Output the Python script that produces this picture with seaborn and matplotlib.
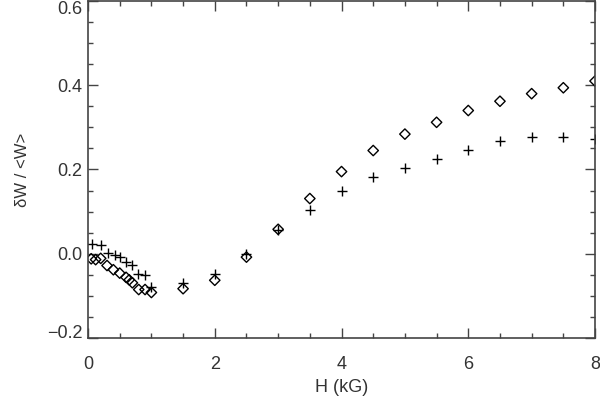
import numpy as np
import pandas as pd
import seaborn as sns
from matplotlib import pyplot as plt
from matplotlib import ticker as plticker

# diamonds
h_diamond = [0.05, 0.12, 0.2, 0.3, 0.4, 0.5, 0.6, 0.65, 0.7, 0.8, 0.9, 1.0,
             1.5, 2.0, 2.5, 3.0, 3.5, 4.0, 4.5, 5.0, 5.5, 6.0, 6.5, 7.0,
             7.5, 8.0]
w_diamond = [-0.012, -0.014, -0.011, -0.028, -0.038, -0.046, -0.056, -0.062,
             -0.069, -0.085, -0.085, -0.092, -0.083, -0.063, -0.008, 0.058,
             0.131, 0.195, 0.245, 0.284, 0.312, 0.340, 0.362, 0.380, 0.394,
             0.410]

# crosses
h_cross = [0.07, 0.2, 0.32, 0.42, 0.5, 0.6, 0.7, 0.79, 0.9, 1.0, 1.5, 2.0,
           2.5, 3.0, 3.5, 4.0, 4.5, 5.0, 5.5, 6.0, 6.5, 7.0, 7.5, 8.0]
w_cross = [0.022, 0.021, 0.002, -0.002, -0.008, -0.020, -0.026, -0.047,
           -0.051, -0.079, -0.069, -0.049, 0.0, 0.056, 0.105, 0.149, 0.183,
           0.203, 0.225, 0.247, 0.268, 0.277, 0.276, 0.272]

y_ticks = [-0.2, 0.0, 0.2, 0.4, 0.6]

diamonds = pd.DataFrame({'H': h_diamond, 'dW': w_diamond})
crosses = pd.DataFrame({'H': h_cross, 'dW': w_cross})

sns.set_style('ticks')
plt.rcParams['font.family'] = ['Liberation Sans', 'DejaVu Sans']

fig = plt.figure(figsize=(6, 3.98), dpi=100)
ax = fig.add_axes([0.1467, 0.1508, 0.845, 0.8467])

sns.scatterplot(data=diamonds, x='H', y='dW', ax=ax, marker='D', s=28,
                facecolor='none', edgecolor='black', linewidth=1.0)
sns.scatterplot(data=crosses, x='H', y='dW', ax=ax, marker='+', s=55,
                color='black', linewidth=1.0)

ax.set_xlim(0, 8)
ax.set_ylim(-0.2, 0.6)

ax.xaxis.set_major_locator(plticker.MultipleLocator(2))
ax.xaxis.set_minor_locator(plticker.MultipleLocator(0.5))
ax.yaxis.set_major_locator(plticker.FixedLocator(y_ticks))
ax.yaxis.set_minor_locator(plticker.MultipleLocator(0.05))
ax.yaxis.set_major_formatter(
    plticker.FuncFormatter(lambda v, p: f'{v:.1f}'.replace('-', '\u2212')))

ax.tick_params(which='both', direction='in', top=True, right=True,
               color='#444444', labelsize=13, labelcolor='#333333')
ax.tick_params(which='major', length=7, width=1)
ax.tick_params(which='minor', length=3.5, width=1)
ax.tick_params(axis='x', which='major', pad=13)
ax.tick_params(axis='y', which='major', pad=4)
for side in ax.spines.values():
    side.set_color('#444444')
    side.set_linewidth(1.2)

ax.set_xlabel('H (kG)', fontsize=13, color='#333333', labelpad=4)
ax.set_ylabel('δW / <W>', fontsize=12, color='#333333', labelpad=12)

# keep the end labels inside the frame, like the original
fig.canvas.draw()
for tick in ax.yaxis.get_major_ticks():
    if np.isclose(tick.get_loc(), y_ticks[0]):
        tick.label1.set_verticalalignment('baseline')
    if np.isclose(tick.get_loc(), y_ticks[-1]):
        tick.label1.set_verticalalignment('top')

fig.savefig('out.png', dpi=100)
